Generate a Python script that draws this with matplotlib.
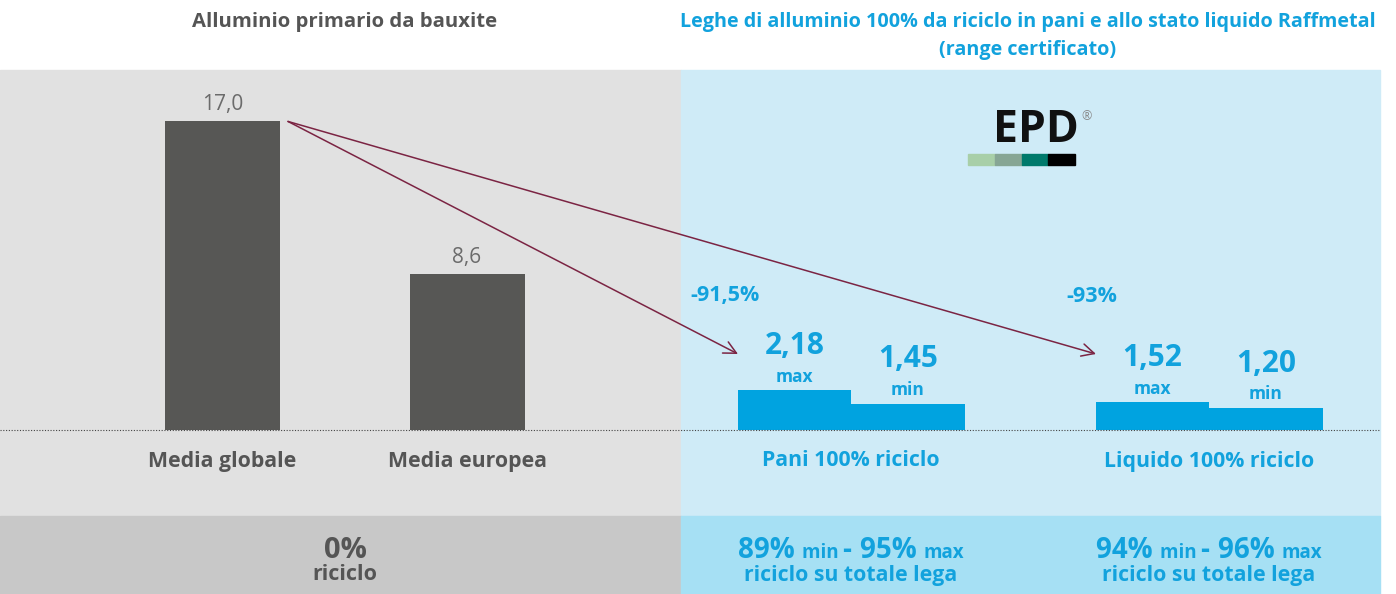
import matplotlib
matplotlib.use("Agg")
import matplotlib.pyplot as plt
from matplotlib.patches import Rectangle

plt.rcParams["font.family"] = ["Open Sans", "DejaVu Sans"]

# data
primary_labels = ["Media globale", "Media europea"]
primary_values = [17.0, 8.6]
recycled_labels = ["Pani 100% riciclo", "Liquido 100% riciclo"]
recycled_max = [2.18, 1.52]
recycled_min = [1.45, 1.20]
reductions = ["-91,5%", "-93%"]
share_min = [89, 94]
share_max = [95, 96]
title_left = "Alluminio primario da bauxite"
title_right = ["Leghe di alluminio 100% da riciclo in pani e allo stato liquido Raffmetal",
               "(range certificato)"]

GRAY_BAR = "#575755"
BLUE = "#00a3e0"
BLUE_TXT = "#12a2dd"
DARK_TXT = "#555555"
ARROW = "#7b2443"

W, H = 1396, 594
S = 18.15      # pixels per unit
BASE = 430     # baseline, pixels from top


def yp(py):
    # pixel row from top -> data y
    return (BASE - py) / S


def fmt(v, d):
    return f"{v:.{d}f}".replace(".", ",")


fig = plt.figure(figsize=(W / 100, H / 100), dpi=100)
ax = fig.add_axes([0, 0, 1, 1])
ax.set_xlim(0, W)
ax.set_ylim(yp(H), yp(0))
ax.axis("off")

# backgrounds
ax.add_patch(Rectangle((0, yp(516)), 681, yp(70) - yp(516), color="#e1e1e1", zorder=0))
ax.add_patch(Rectangle((681, yp(516)), 699, yp(70) - yp(516), color="#cfebf7", zorder=0))
ax.add_patch(Rectangle((0, yp(594)), 681, yp(516) - yp(594), color="#c8c8c8", zorder=0))
ax.add_patch(Rectangle((681, yp(594)), 699, yp(516) - yp(594), color="#a6e0f4", zorder=0))

# titles
ax.text(345, yp(22), title_left, ha="center", va="center", fontsize=14.6,
        fontweight="bold", color=DARK_TXT)
ax.text(1028, yp(22), title_right[0], ha="center", va="center", fontsize=14.2,
        fontweight="bold", color=BLUE_TXT)
ax.text(1028, yp(50), title_right[1], ha="center", va="center", fontsize=14.2,
        fontweight="bold", color=BLUE_TXT)

# primary bars
px = [222.5, 467]
ax.bar(px, primary_values, width=115, color=GRAY_BAR, zorder=2)
for x, v, lab in zip(px, primary_values, primary_labels):
    ax.annotate(fmt(v, 1), (x, v), xytext=(0, 12), textcoords="offset points",
                ha="center", va="center", fontsize=15, color="#6b6b6b")
    ax.text(x, yp(461), lab, ha="center", va="center", fontsize=15.3,
            fontweight="bold", color=DARK_TXT)

# recycled bars
gx = [851, 1209]
bw = 113.5
ax.bar([g - bw / 2 for g in gx], recycled_max, width=bw, color=BLUE, zorder=2)
ax.bar([g + bw / 2 for g in gx], recycled_min, width=bw, color=BLUE, zorder=2)
for g, vmax, vmin, lab in zip(gx, recycled_max, recycled_min, recycled_labels):
    for x, v, tag in [(g - bw / 2, vmax, "max"), (g + bw / 2, vmin, "min")]:
        ax.annotate(fmt(v, 2), (x, v), xytext=(0, 32), textcoords="offset points",
                    ha="center", va="center", fontsize=21.5, fontweight="bold", color=BLUE_TXT)
        ax.annotate(tag, (x, v), xytext=(0, 10), textcoords="offset points",
                    ha="center", va="center", fontsize=12.5, fontweight="bold", color=BLUE_TXT)
    ax.text(g, yp(461), lab, ha="center", va="center", fontsize=15.3,
            fontweight="bold", color=BLUE_TXT)

# baseline
ax.plot([0, 1380], [0, 0], linestyle=(0, (1, 1.5)), color="#444444", lw=0.8, zorder=3)

# arrows from global average to each recycled product
for tip_x, red, rx in zip([738, 1096], reductions, [725, 1092]):
    ax.annotate("", xy=(tip_x, yp(354)), xytext=(288, primary_values[0]),
                arrowprops=dict(arrowstyle="->,head_length=0.9,head_width=0.45",
                                color=ARROW, lw=1.1, shrinkA=0, shrinkB=0), zorder=4)
    ax.text(rx, yp(296), red, ha="center", va="center", fontsize=15.5,
            fontweight="bold", color=BLUE_TXT)

# EPD logo
ax.text(1036, yp(130), "EPD", ha="center", va="center", fontsize=32,
        fontweight="bold", color="#111111")
ax.text(1087, yp(117), "®", ha="center", va="center", fontsize=9, color="#888888")
for i, c in enumerate(["#a8cfa8", "#87a695", "#00796b", "#000000"]):
    ax.add_patch(Rectangle((968 + i * 26.8, yp(165)), 26.8, yp(154) - yp(165), color=c, zorder=2))

# bottom band
ax.text(345, yp(550), "0%", ha="center", va="center", fontsize=21,
        fontweight="bold", color=DARK_TXT)
ax.text(345, yp(575), "riciclo", ha="center", va="center", fontsize=15.5,
        fontweight="bold", color=DARK_TXT)

renderer = fig.canvas.get_renderer()


def mixed(xc, y, parts):
    texts = [ax.text(0, y, s, ha="left", va="baseline", fontsize=fs,
                     fontweight="bold", color=BLUE_TXT) for s, fs in parts]
    widths = [t.get_window_extent(renderer).width for t in texts]
    x = xc - sum(widths) / 2
    for t, w in zip(texts, widths):
        t.set_x(x)
        x += w


for g, lo, hi in zip(gx, share_min, share_max):
    mixed(g, yp(558), [(f"{lo}% ", 20), ("min ", 13.5), ("- ", 20),
                       (f"{hi}% ", 20), ("max", 13.5)])
    ax.text(g, yp(575), "riciclo su totale lega", ha="center", va="center",
            fontsize=15.3, fontweight="bold", color=BLUE_TXT)

fig.savefig("out.png", dpi=100)
